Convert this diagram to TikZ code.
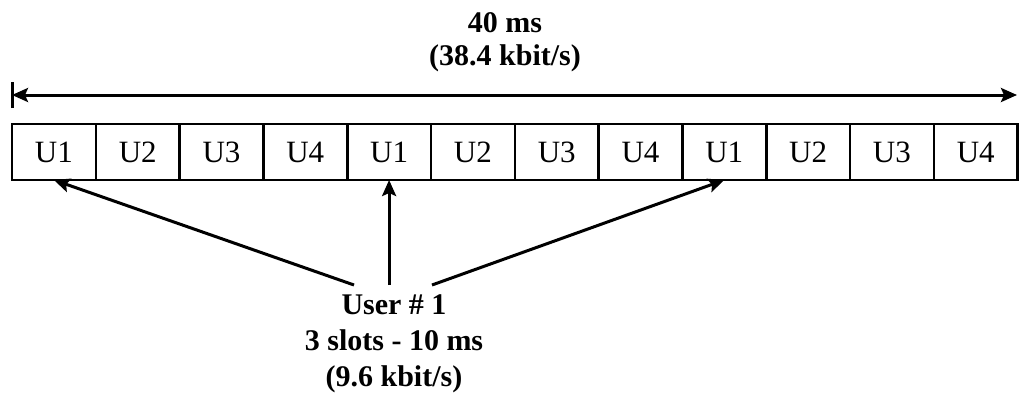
\documentclass[tikz,border=0pt]{standalone}
\usepackage{fontspec}
\setmainfont{Liberation Serif}
\usetikzlibrary{arrows.meta,positioning}

\begin{document}
\begin{tikzpicture}[x=1pt, y=-1pt, thick]
    % Stili
    \tikzstyle{slot}=[rectangle, draw=black, line width=2.6pt, minimum width=83.8pt, minimum height=56pt, outer sep=0pt, inner sep=0pt, font=\fontsize{31}{34}\selectfont]
    \tikzstyle{note}=[align=center, inner sep=2pt, font=\fontsize{30}{33}\selectfont\bfseries]
    \tikzstyle{arrow}=[->, >={Stealth[length=16pt, width=14pt, inset=3pt]}, line width=3pt]

    \useasboundingbox (0,0) rectangle (1019,400);

    % Nodi
    \node (s1) [slot, anchor=north west] at (12,124) {U1};
    \node (s2) [slot, right=0pt of s1] {U2};
    \node (s3) [slot, right=0pt of s2] {U3};
    \node (s4) [slot, right=0pt of s3] {U4};
    \node (s5) [slot, right=0pt of s4] {U1};
    \node (s6) [slot, right=0pt of s5] {U2};
    \node (s7) [slot, right=0pt of s6] {U3};
    \node (s8) [slot, right=0pt of s7] {U4};
    \node (s9) [slot, right=0pt of s8] {U1};
    \node (s10) [slot, right=0pt of s9] {U2};
    \node (s11) [slot, right=0pt of s10] {U3};
    \node (s12) [slot, right=0pt of s11] {U4};

    \node (total) [note] at (505,42) {40 ms\\(38.4 kbit/s)};
    \node (user) [note, inner sep=9pt, font=\fontsize{30}{36}\selectfont\bfseries, anchor=north] at (394,285) {User \# 1\\3 slots - 10 ms\\(9.6 kbit/s)};

    \coordinate (left) at (12,95);
    \coordinate (right) at (1017,95);

    % Collegamenti
    \draw [arrow, <->] (left) -- (right);
    \draw [line width=3pt] ([yshift=-13pt]left) -- ([yshift=13pt]left);
    \draw [arrow] ([xshift=-40pt]user.north) -- (s1.south);
    \draw [arrow] (user.north -| s5.south) -- (s5.south);
    \draw [arrow] ([xshift=38pt]user.north) -- (s9.south);

\end{tikzpicture}
\end{document}
